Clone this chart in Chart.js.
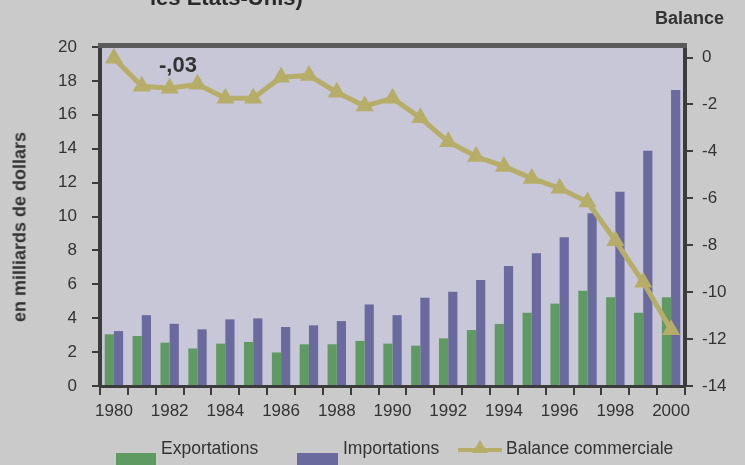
<!DOCTYPE html>
<html>
<head>
<meta charset="utf-8">
<script src="https://cdn.jsdelivr.net/npm/chart.js@4.4.1/dist/chart.umd.min.js"></script>
<style>
  html, body { margin:0; padding:0; background:#cacaca; }
  #wrap { position:relative; width:745px; height:465px; overflow:hidden; background:#cacaca; font-family:"Liberation Sans", Arial, sans-serif; color:#333; }
  canvas { position:absolute; left:0; top:0; }
  .txt { position:absolute; white-space:nowrap; }
  #cut { left:150px; top:-15px; font-size:22px; line-height:25px; font-weight:bold; color:#2a2a2a; }
  #bal { left:655px; top:8px; font-size:18px; font-weight:bold; color:#333; }
  #ytitle { left:20px; top:227px; font-size:18px; font-weight:bold; color:#333; transform:translate(-50%,-50%) rotate(-90deg); }
  #ann { left:159px; top:52px; font-size:22px; font-weight:bold; color:#333; }
  .leg { position:absolute; top:438px; font-size:17.5px; color:#333; }
  .box { position:absolute; top:453px; height:14px; }
</style>
</head>
<body>
<div id="wrap">
  <canvas id="c" width="745" height="465"></canvas>
  <div class="txt" id="cut">les États-Unis)</div>
  <div class="txt" id="bal">Balance</div>
  <div class="txt" id="ytitle">en milliards de dollars</div>
  <div class="txt" id="ann">-,03</div>
  <div class="box" style="left:116px;width:40px;background:#5f9a62;"></div>
  <div class="leg" style="left:161px;">Exportations</div>
  <div class="box" style="left:297px;width:41px;background:#6b6a9e;"></div>
  <div class="leg" style="left:343px;">Importations</div>
  <canvas id="lg" width="48" height="24" style="left:456px;top:436px;"></canvas>
  <div class="leg" style="left:506px;">Balance commerciale</div>
</div>
<script>
const years = ["1980","1981","1982","1983","1984","1985","1986","1987","1988","1989","1990","1991","1992","1993","1994","1995","1996","1997","1998","1999","2000"];
const exportations = [3.05,2.95,2.56,2.21,2.50,2.60,1.98,2.46,2.46,2.66,2.50,2.38,2.81,3.30,3.66,4.32,4.86,5.62,5.23,4.32,5.23];
const importations = [3.24,4.18,3.67,3.34,3.93,3.99,3.48,3.58,3.83,4.81,4.18,5.20,5.56,6.25,7.08,7.83,8.77,10.19,11.46,13.88,17.46];
const balance = [-0.03,-1.22,-1.31,-1.14,-1.73,-1.73,-0.84,-0.76,-1.48,-2.07,-1.73,-2.57,-3.59,-4.22,-4.64,-5.15,-5.57,-6.16,-7.81,-9.58,-11.60];
const leftTicks = [0,2,4,6,8,10,12,14,16,18,20];
const rightTicks = [0,-2,-4,-6,-8,-10,-12,-14];
const xLabelEvery = 2;

const GREEN = '#5f9a62', PURPLE = '#6b6a9e', OLIVE = '#b6ad68', DARK = '#3c3c3c';

// legend line symbol
(function(){
  const g = document.getElementById('lg').getContext('2d');
  g.strokeStyle = OLIVE; g.lineWidth = 4;
  g.beginPath(); g.moveTo(2,14); g.lineTo(46,14); g.stroke();
  g.fillStyle = OLIVE; g.beginPath(); g.moveTo(24,4); g.lineTo(32,17); g.lineTo(16,17); g.closePath(); g.fill();
})();

const frame = {
  id:'frame',
  beforeDraw(chart){
    const {ctx, chartArea:a} = chart;
    ctx.save();
    ctx.fillStyle = '#c7c7d7';
    ctx.fillRect(a.left, a.top, a.right-a.left, a.bottom-a.top);
    ctx.restore();
  },
  afterDraw(chart){
    const {ctx, chartArea:a} = chart;
    ctx.save();
    ctx.fillStyle = '#5a5a5a';
    ctx.fillRect(a.left-2, a.top-4, a.right-a.left+4, 5);
    ctx.restore();
  }
};

new Chart(document.getElementById('c'), {
  data: {
    labels: years,
    datasets: [
      { type:'line', label:'Balance commerciale', data:balance, yAxisID:'y2', borderColor:OLIVE, backgroundColor:OLIVE, borderWidth:5, pointStyle:'triangle', pointRadius:8.5, pointBackgroundColor:OLIVE, pointBorderColor:OLIVE, pointBorderWidth:2, tension:0, order:0 },
      { type:'bar', label:'Exportations', data:exportations, yAxisID:'y', backgroundColor:GREEN, categoryPercentage:0.66, barPercentage:1.0, order:1 },
      { type:'bar', label:'Importations', data:importations, yAxisID:'y', backgroundColor:PURPLE, categoryPercentage:0.66, barPercentage:1.0, order:1 }
    ]
  },
  options: {
    responsive:false, animation:false,
    layout:{ padding:{ top:47, left:0, right:0, bottom:0 } },
    plugins:{ legend:{display:false}, tooltip:{enabled:false} },
    scales: {
      x: {
        offset:true,
        grid:{ offset:true, drawOnChartArea:false, drawTicks:true, tickLength:9, tickColor:DARK, lineWidth:2 },
        border:{ display:true, color:DARK, width:3 },
        ticks:{ autoSkip:false, maxRotation:0, padding:6, color:'#333', font:{ family:'Liberation Sans', size:17 },
          callback:function(v,i){ return i % xLabelEvery === 0 ? years[i] : ''; } },
        afterFit(s){ s.height = 79; }
      },
      y: {
        position:'left', min:0, max:20,
        afterBuildTicks(s){ s.ticks = leftTicks.map(v=>({value:v})); },
        grid:{ drawOnChartArea:false, tickLength:8, tickColor:DARK, lineWidth:2 },
        border:{ display:true, color:DARK, width:4 },
        ticks:{ color:'#333', padding:15, font:{ family:'Liberation Sans', size:17 } },
        afterFit(s){ s.width = 100; }
      },
      y2: {
        position:'right', min:-14, max:0.45,
        afterBuildTicks(s){ s.ticks = rightTicks.map(v=>({value:v})); },
        grid:{ drawOnChartArea:false, tickLength:8, tickColor:DARK, lineWidth:2 },
        border:{ display:true, color:DARK, width:4 },
        ticks:{ color:'#333', padding:9, font:{ family:'Liberation Sans', size:17 } },
        afterFit(s){ s.width = 60; }
      }
    }
  },
  plugins:[frame]
});
</script>
</body>
</html>
